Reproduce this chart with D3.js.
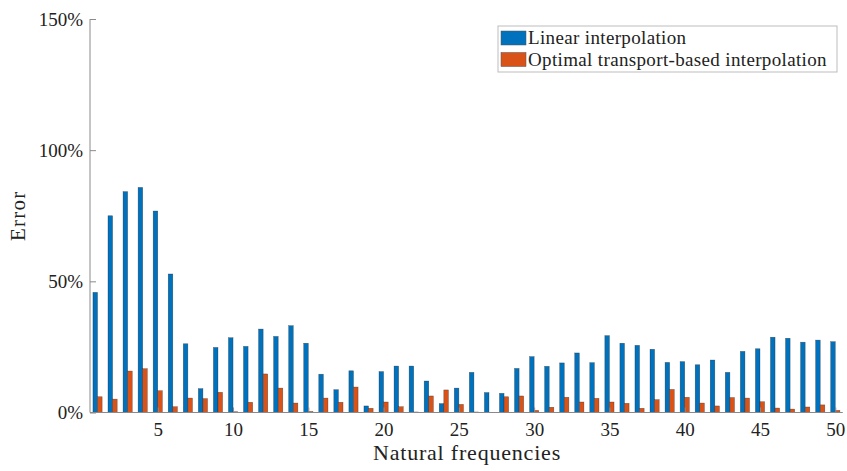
<!DOCTYPE html>
<html>
<head>
<meta charset="utf-8">
<script src="https://cdn.jsdelivr.net/npm/d3@7"></script>
<style>
  html, body { margin: 0; padding: 0; background: #fff; }
  svg text { font-family: "Liberation Serif", "DejaVu Serif", serif; fill: #222; }
</style>
</head>
<body>
<svg id="chart" width="847" height="471"></svg>
<script>
const frequencies = d3.range(1, 51);
const linearErr = [
  45.8, 75.0, 84.2, 85.8, 76.8, 52.8, 26.2, 9.1, 24.8, 28.5,
  25.2, 31.8, 29.0, 33.1, 26.4, 14.6, 8.7, 15.9, 2.5, 15.6,
  17.7, 17.7, 12.0, 3.4, 9.3, 15.3, 7.6, 7.3, 16.8, 21.3,
  17.6, 18.9, 22.7, 19.0, 29.3, 26.4, 25.6, 24.1, 19.1, 19.4,
  18.2, 20.0, 15.3, 23.3, 24.3, 28.7, 28.3, 26.8, 27.6, 27.0
];
const otErr = [
  6.0, 5.1, 15.8, 16.7, 8.3, 2.2, 5.5, 5.3, 7.7, 0.3,
  3.9, 14.7, 9.3, 3.6, 0.4, 5.5, 3.9, 9.7, 1.6, 4.0,
  2.2, 0.2, 6.3, 8.6, 3.1, 0.2, 0.0, 6.0, 6.3, 0.8,
  2.0, 5.8, 4.0, 5.4, 4.0, 3.5, 1.6, 4.9, 8.8, 5.8,
  3.6, 2.5, 5.7, 5.5, 4.1, 1.7, 1.3, 2.1, 2.9, 0.8
];
const xTicks = [5, 10, 15, 20, 25, 30, 35, 40, 45, 50];
const yTicks = [0, 50, 100, 150];
const seriesNames = ["Linear interpolation", "Optimal transport-based interpolation"];
const seriesColors = ["#0072BD", "#D95319"];

const svg = d3.select("#chart");
const mLeft = 90, mRight = 842.8, mTop = 19, mBottom = 412.5;

const x = d3.scaleLinear().domain([0.5, 50.5]).range([mLeft, mRight]);
const y = d3.scaleLinear().domain([0, 150]).range([mBottom, mTop]);
const barW = 0.305; // in x units

const series = [linearErr, otErr];
series.forEach((vals, si) => {
  svg.append("g").selectAll("rect").data(frequencies).join("rect")
    .attr("x", d => si === 0 ? x(d - barW) : x(d))
    .attr("width", x(barW) - x(0))
    .attr("y", (d, i) => y(vals[i]))
    .attr("height", (d, i) => y(0) - y(vals[i]))
    .attr("fill", seriesColors[si])
    .attr("stroke", "#1a1a1a")
    .attr("stroke-opacity", 0.55)
    .attr("stroke-width", 0.5);
});

// axes
const xAxis = d3.axisBottom(x).tickValues(xTicks).tickSize(-5).tickPadding(10).tickFormat(d3.format("d"));
const gx = svg.append("g").attr("transform", `translate(0,${mBottom})`).call(xAxis);
const yAxis = d3.axisLeft(y).tickValues(yTicks).tickSize(-6).tickPadding(7).tickFormat(d => d + "%");
const gy = svg.append("g").attr("transform", `translate(${mLeft},0)`).call(yAxis);
[gx, gy].forEach(g => {
  g.select(".domain").attr("stroke", "#8a8a8a").attr("stroke-width", 1);
  g.selectAll(".tick line").attr("stroke", "#8a8a8a");
  g.selectAll(".tick text").attr("font-family", "Liberation Serif, serif").attr("font-size", 19).attr("fill", "#222");
});
gy.select(".domain").attr("d", `M0,${mBottom}V${mTop}`);
gx.select(".domain").attr("d", `M${mLeft},0H${mRight}`);

// axis labels
svg.append("text").attr("x", 467).attr("y", 460)
  .attr("text-anchor", "middle").attr("font-size", 22).attr("letter-spacing", 0.8)
  .text("Natural frequencies");
svg.append("text").attr("transform", `translate(25,${(mTop + mBottom) / 2}) rotate(-90)`)
  .attr("text-anchor", "middle").attr("font-size", 21).attr("letter-spacing", 1.2).text("Error");

// legend
const lg = svg.append("g");
lg.append("rect").attr("x", 498).attr("y", 26).attr("width", 339).attr("height", 46)
  .attr("fill", "#fff").attr("stroke", "#bdbdbd").attr("stroke-width", 1);
seriesNames.forEach((name, i) => {
  const cy = 38 + i * 21.5;
  lg.append("rect").attr("x", 501).attr("y", cy - 7).attr("width", 25).attr("height", 14)
    .attr("fill", seriesColors[i]).attr("stroke", "#555").attr("stroke-width", 0.5);
  lg.append("text").attr("x", 528).attr("y", cy + 6).attr("font-size", 19)
    .attr("letter-spacing", 0.35).text(name);
});
</script>
</body>
</html>
